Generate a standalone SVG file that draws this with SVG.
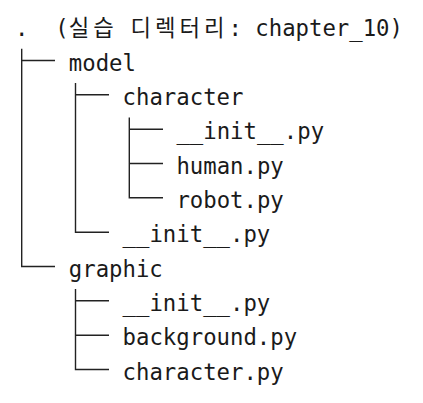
<svg xmlns="http://www.w3.org/2000/svg" width="423" height="403" viewBox="0 0 423 403">
  <style>
    .t { font-family: "DejaVu Sans Mono", "Liberation Mono", monospace; font-size: 22.3px; fill: #1a1a1a; }
    .ko { font-family: "Noto Sans CJK KR", "Noto Sans CJK SC", sans-serif; font-size: 22.3px; fill: #1a1a1a; }
    .c { stroke: #222; stroke-width: 1.4; fill: none; }
  </style>
  <rect width="423" height="403" fill="#ffffff"/>
  <g id="connectors">
    <path class="c" d="M21.7 48.8 V266.5 H55 M21.7 60.5 H55"/>
    <path class="c" d="M75.5 83.1 V232.2 H109 M75.5 94.8 H109"/>
    <path class="c" d="M129.3 117.5 V197.8 H163 M129.3 129.2 H163 M129.3 163.5 H163"/>
    <path class="c" d="M75.5 289.1 V369.5 H109 M75.5 300.8 H109 M75.5 335.2 H109"/>
  </g>
  <g id="root">
    <text class="t" y="36.2"><tspan x="15">.</tspan><tspan x="55.35">(</tspan><tspan class="ko" x="68.8 93.25">실습</tspan><tspan class="ko" x="130.5 155 179.4 203.9">디렉터리</tspan><tspan x="228.4">:</tspan><tspan x="255.3">chapter_10)</tspan></text>
  </g>
  <g id="model"><text class="t" x="68.8" y="70.5">model</text></g>
  <g id="model-character"><text class="t" x="122.6" y="104.8">character</text></g>
  <g id="character-init"><text class="t" x="176.4" y="139.2">__init__.py</text></g>
  <g id="character-human"><text class="t" x="176.4" y="173.5">human.py</text></g>
  <g id="character-robot"><text class="t" x="176.4" y="207.8">robot.py</text></g>
  <g id="model-init"><text class="t" x="122.6" y="242.2">__init__.py</text></g>
  <g id="graphic"><text class="t" x="68.8" y="276.5">graphic</text></g>
  <g id="graphic-init"><text class="t" x="122.6" y="310.8">__init__.py</text></g>
  <g id="graphic-background"><text class="t" x="122.6" y="345.2">background.py</text></g>
  <g id="graphic-character"><text class="t" x="122.6" y="379.5">character.py</text></g>
</svg>
